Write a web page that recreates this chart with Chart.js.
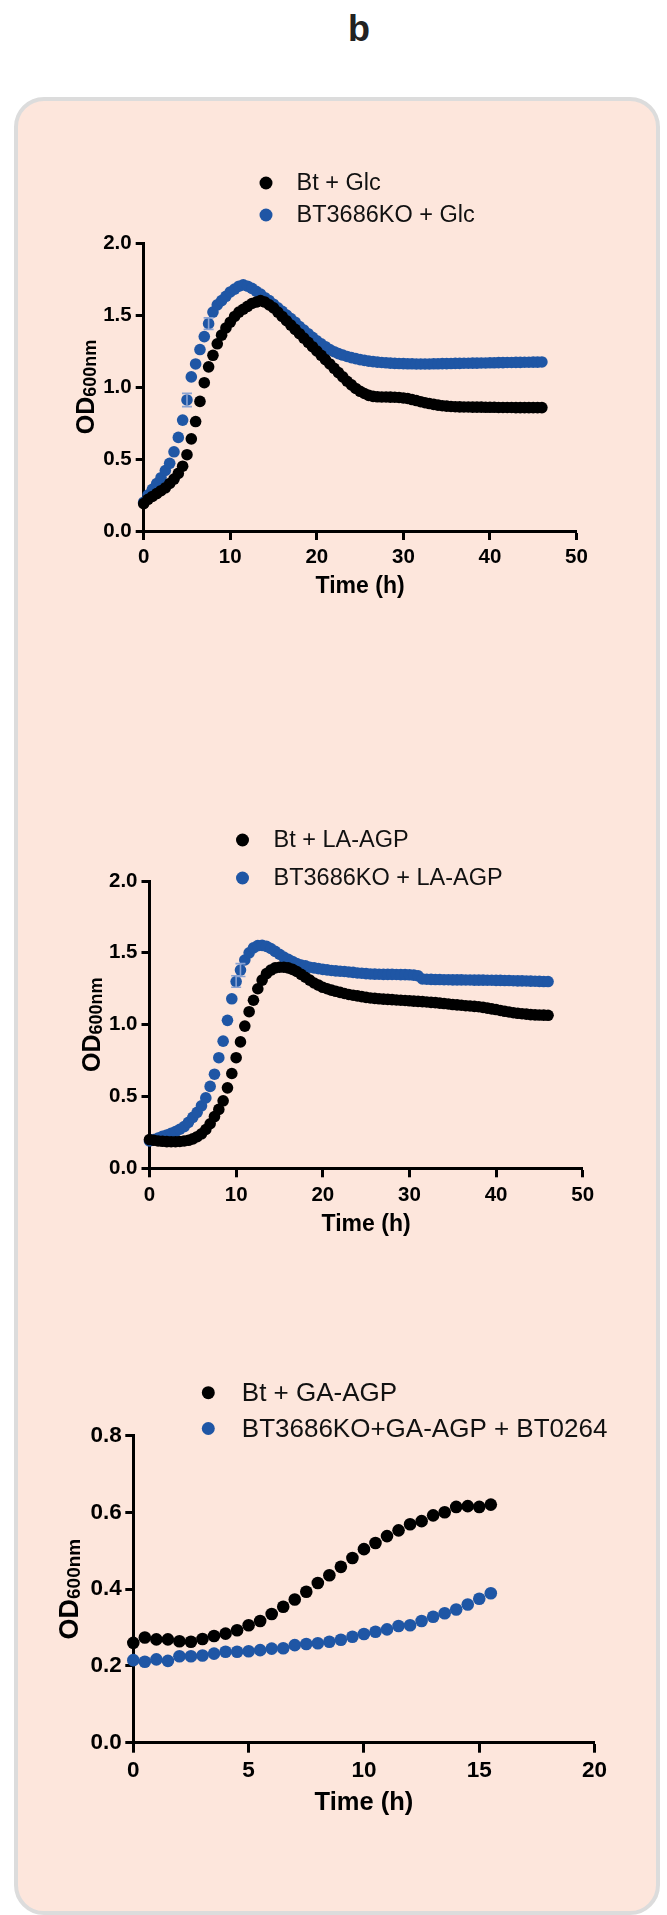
<!DOCTYPE html>
<html>
<head>
<meta charset="utf-8">
<script src="https://cdn.jsdelivr.net/npm/chart.js@4.4.0/dist/chart.umd.min.js"></script>
<style>
html,body{margin:0;padding:0;background:#ffffff;}
body{width:667px;height:1915px;position:relative;overflow:hidden;font-family:"Liberation Sans",Arial,Helvetica,sans-serif;}
#head{position:absolute;left:309px;top:11px;width:100px;text-align:center;font-weight:bold;font-size:36px;line-height:36px;color:#222;}
#panel{position:absolute;left:14px;top:97px;width:646px;height:1818px;box-sizing:border-box;border:4px solid #dcdcdc;border-radius:30px;background:#fde6dc;}
canvas{position:absolute;left:0;}
#c1{top:150px;}
#c2{top:800px;}
#c3{top:1360px;}
</style>
</head>
<body>
<div id="head">b</div>
<div id="panel"></div>
<canvas id="c1" width="667" height="480"></canvas>
<canvas id="c2" width="667" height="460"></canvas>
<canvas id="c3" width="667" height="470"></canvas>
<script>
// ---------- data ----------
const times46 = [
  0,0.5,1,1.5,2,2.5,3,3.5,4,4.5,
  5,5.5,6,6.5,7,7.5,8,8.5,9,9.5,
  10,10.5,11,11.5,12,12.5,13,13.5,14,14.5,
  15,15.5,16,16.5,17,17.5,18,18.5,19,19.5,
  20,20.5,21,21.5,22,22.5,23,23.5,24,24.5,
  25,25.5,26,26.5,27,27.5,28,28.5,29,29.5,
  30,30.5,31,31.5,32,32.5,33,33.5,34,34.5,
  35,35.5,36,36.5,37,37.5,38,38.5,39,39.5,
  40,40.5,41,41.5,42,42.5,43,43.5,44,44.5,
  45,45.5,46];
const times15 = [0,0.5,1,1.5,2,2.5,3,3.5,4,4.5,5,5.5,6,6.5,7,7.5,
  8,8.5,9,9.5,10,10.5,11,11.5,12,12.5,13,13.5,14,14.5,15,15.5];

const labelsGlc = ['Bt + Glc', 'BT3686KO + Glc'];
const btGlc = [
  0.19,0.22,0.24,0.26,0.28,0.30,0.33,0.36,0.40,0.45,
  0.53,0.64,0.76,0.90,1.03,1.14,1.22,1.30,1.36,1.41,
  1.45,1.49,1.52,1.54,1.56,1.58,1.59,1.60,1.59,1.57,
  1.55,1.52,1.49,1.46,1.43,1.40,1.37,1.34,1.31,1.28,
  1.25,1.22,1.19,1.16,1.13,1.10,1.07,1.04,1.015,0.99,
  0.97,0.955,0.942,0.935,0.932,0.931,0.931,0.93,0.929,0.927,
  0.924,0.92,0.913,0.906,0.898,0.891,0.885,0.879,0.874,0.87,
  0.867,0.865,0.863,0.862,0.861,0.861,0.86,0.86,0.86,0.859,
  0.859,0.859,0.858,0.858,0.858,0.858,0.857,0.857,0.857,0.857,
  0.857,0.857,0.857];
const koGlc = [
  0.20,0.25,0.29,0.33,0.37,0.42,0.47,0.55,0.65,0.77,
  0.91,1.07,1.16,1.26,1.35,1.44,1.52,1.57,1.60,1.63,
  1.66,1.68,1.70,1.71,1.70,1.685,1.665,1.645,1.62,1.60,
  1.575,1.55,1.525,1.50,1.475,1.45,1.42,1.395,1.37,1.345,
  1.32,1.30,1.28,1.26,1.245,1.232,1.222,1.212,1.204,1.197,
  1.19,1.185,1.18,1.176,1.173,1.17,1.168,1.166,1.164,1.163,
  1.162,1.161,1.161,1.16,1.16,1.16,1.16,1.161,1.161,1.162,
  1.162,1.163,1.164,1.164,1.165,1.165,1.166,1.166,1.167,1.167,
  1.168,1.168,1.169,1.169,1.17,1.17,1.171,1.171,1.172,1.172,
  1.173,1.173,1.174];
const koGlcErr = [[5, 0.046], [7.5, 0.04]];

const labelsLa = ['Bt + LA-AGP', 'BT3686KO + LA-AGP'];
const btLa = [
  0.20,0.195,0.19,0.188,0.186,0.185,0.185,0.187,0.19,0.195,
  0.205,0.22,0.24,0.27,0.31,0.36,0.41,0.47,0.56,0.66,
  0.77,0.88,0.99,1.09,1.17,1.25,1.31,1.355,1.38,1.395,
  1.40,1.40,1.395,1.385,1.37,1.35,1.33,1.31,1.29,1.275,
  1.26,1.25,1.24,1.232,1.225,1.217,1.21,1.205,1.20,1.195,
  1.19,1.186,1.183,1.18,1.178,1.176,1.174,1.172,1.17,1.168,
  1.166,1.164,1.162,1.16,1.158,1.155,1.153,1.15,1.147,1.144,
  1.14,1.138,1.135,1.132,1.13,1.127,1.125,1.12,1.115,1.11,
  1.105,1.099,1.093,1.088,1.083,1.079,1.076,1.073,1.07,1.068,
  1.067,1.066,1.065];
const koLa = [
  0.19,0.20,0.21,0.222,0.232,0.243,0.255,0.272,0.29,0.32,
  0.355,0.39,0.435,0.49,0.57,0.655,0.77,0.885,1.03,1.18,
  1.30,1.38,1.45,1.50,1.535,1.55,1.552,1.545,1.53,1.51,
  1.49,1.47,1.455,1.44,1.425,1.415,1.41,1.40,1.395,1.39,
  1.385,1.381,1.377,1.374,1.372,1.37,1.367,1.364,1.36,1.358,
  1.355,1.353,1.352,1.351,1.35,1.35,1.35,1.349,1.348,1.348,
  1.347,1.345,1.34,1.318,1.316,1.315,1.314,1.314,1.313,1.313,
  1.312,1.312,1.312,1.311,1.311,1.31,1.31,1.31,1.309,1.309,
  1.308,1.308,1.307,1.307,1.306,1.305,1.305,1.304,1.303,1.302,
  1.301,1.30,1.30];
const koLaErr = [[10, 0.04], [10.5, 0.045]];

const labelsGa = ['Bt + GA-AGP', 'BT3686KO+GA-AGP + BT0264'];
const btGa = [0.26,0.274,0.269,0.269,0.264,0.263,0.27,0.278,0.284,0.293,0.306,0.317,
  0.335,0.354,0.373,0.393,0.416,0.436,0.458,0.481,0.504,0.52,0.538,0.553,
  0.569,0.577,0.592,0.60,0.614,0.616,0.614,0.62];
const koGa = [0.215,0.211,0.217,0.213,0.225,0.225,0.227,0.232,0.237,0.237,0.238,0.241,
  0.245,0.246,0.254,0.257,0.259,0.263,0.268,0.276,0.283,0.289,0.295,0.304,
  0.306,0.317,0.328,0.337,0.347,0.36,0.375,0.389];

const yTicks12 = [0, 0.5, 1.0, 1.5, 2.0];
const yTicks3 = [0, 0.2, 0.4, 0.6, 0.8];
const xTicks12 = [0, 10, 20, 30, 40, 50];
const xTicks3 = [0, 5, 10, 15, 20];

// ---------- styling ----------
const FAM = '"Liberation Sans", Arial, Helvetica, sans-serif';
const BLACK = '#000000';
const BLUE = '#1f56a5';
const ERR = '#8aa2d2';
Chart.defaults.font.family = FAM;
Chart.defaults.color = '#000';

const sideLegend = {
  id: 'sideLegend',
  afterDraw(chart, args, o) {
    const ctx = chart.ctx;
    ctx.save();
    ctx.font = o.size + 'px ' + FAM;
    ctx.textBaseline = 'middle';
    ctx.textAlign = 'left';
    chart.data.datasets.forEach((ds, i) => {
      const y = o.y0 + i * o.dy;
      ctx.beginPath();
      ctx.arc(o.mx, y, o.r, 0, Math.PI * 2);
      ctx.fillStyle = ds.pointBackgroundColor;
      ctx.fill();
      ctx.fillStyle = '#111';
      ctx.fillText(ds.label, o.tx, y + 1);
    });
    ctx.restore();
  }
};

const yTitle = {
  id: 'yTitle',
  afterDraw(chart, args, o) {
    const ctx = chart.ctx, a = chart.chartArea;
    const cy = (a.top + a.bottom) / 2;
    ctx.save();
    ctx.translate(o.x, cy);
    ctx.rotate(-Math.PI / 2);
    ctx.fillStyle = '#000';
    ctx.textBaseline = 'alphabetic';
    ctx.textAlign = 'left';
    const f1 = 'bold ' + o.s1 + 'px ' + FAM, f2 = 'bold ' + o.s2 + 'px ' + FAM;
    ctx.font = f1; const w1 = ctx.measureText('OD').width;
    ctx.font = f2; const w2 = ctx.measureText('600nm').width;
    const x0 = -(w1 + w2) / 2;
    ctx.font = f1; ctx.fillText('OD', x0, 0);
    ctx.font = f2; ctx.fillText('600nm', x0 + w1, o.shift);
    ctx.restore();
  }
};

const errBars = {
  id: 'errBars',
  afterDatasetsDraw(chart, args, o) {
    if (!o.items) return;
    const ctx = chart.ctx, xs = chart.scales.x, ys = chart.scales.y;
    const ds = chart.data.datasets[o.dataset];
    ctx.save();
    ctx.strokeStyle = ERR;
    ctx.lineWidth = 1.6;
    o.items.forEach(([t, e]) => {
      const pt = ds.data.find(d => d.x === t);
      if (!pt) return;
      const px = xs.getPixelForValue(t);
      const y1 = ys.getPixelForValue(pt.y + e), y2 = ys.getPixelForValue(pt.y - e);
      ctx.beginPath();
      ctx.moveTo(px, y1); ctx.lineTo(px, y2);
      ctx.moveTo(px - 5, y1); ctx.lineTo(px + 5, y1);
      ctx.moveTo(px - 5, y2); ctx.lineTo(px + 5, y2);
      ctx.stroke();
    });
    ctx.restore();
  }
};

function makeChart(id, p) {
  const cv = document.getElementById(id);
  const W = cv.width, H = cv.height;
  const toPts = (arr) => p.times.map((t, i) => ({ x: t, y: arr[i] }));
  const tickFont = { size: p.tickSize, weight: 'bold', family: FAM };
  return new Chart(cv, {
    type: 'scatter',
    data: {
      datasets: [
        { label: p.labels[0], data: toPts(p.s1), pointRadius: p.r, pointHoverRadius: p.r,
          pointBackgroundColor: BLACK, pointBorderColor: BLACK, pointBorderWidth: 0,
          showLine: false, clip: false },
        { label: p.labels[1], data: toPts(p.s2), pointRadius: p.r, pointHoverRadius: p.r,
          pointBackgroundColor: BLUE, pointBorderColor: BLUE, pointBorderWidth: 0,
          showLine: false, clip: false }
      ]
    },
    options: {
      responsive: false, animation: false, events: [],
      layout: { padding: { left: 0, top: p.area.top, right: W - p.area.right, bottom: 0 } },
      plugins: {
        legend: { display: false }, tooltip: { enabled: false },
        sideLegend: p.legend,
        yTitle: p.ytitle,
        errBars: { dataset: 1, items: p.err }
      },
      scales: {
        x: {
          type: 'linear', min: 0, max: p.xTicks[p.xTicks.length - 1],
          afterBuildTicks(s) { s.ticks = p.xTicks.map(v => ({ value: v })); },
          ticks: { font: tickFont, color: '#000', padding: p.xPad, maxRotation: 0,
                   callback: v => String(v) },
          grid: { drawOnChartArea: false, drawTicks: true, tickLength: p.xTickLen, tickWidth: 3, tickColor: '#000' },
          border: { display: true, width: 3, color: '#000' },
          title: { display: true, text: 'Time (h)', color: '#000',
                   font: { size: p.titleSize, weight: 'bold', family: FAM },
                   padding: { top: 0, bottom: p.titlePad } },
          afterFit(s) { s.height = H - p.area.bottom; }
        },
        y: {
          type: 'linear', min: 0, max: p.yTicks[p.yTicks.length - 1],
          afterBuildTicks(s) { s.ticks = p.yTicks.map(v => ({ value: v })); },
          ticks: { font: tickFont, color: '#000', padding: p.yPad,
                   callback: v => Number(v).toFixed(1) },
          grid: { drawOnChartArea: false, drawTicks: true, tickLength: 8, tickWidth: 3, tickColor: '#000' },
          border: { display: true, width: 3, color: '#000' },
          afterFit(s) { s.width = p.area.left; }
        }
      }
    },
    plugins: [sideLegend, yTitle, errBars]
  });
}

makeChart('c1', {
  times: times46, s1: btGlc, s2: koGlc, labels: labelsGlc, err: koGlcErr, r: 5.8,
  xTicks: xTicks12, yTicks: yTicks12,
  area: { left: 143.7, top: 93, right: 576.5, bottom: 381 },
  tickSize: 20.5, xPad: 4.7, yPad: 4, xTickLen: 9, titleSize: 23, titlePad: 29.2,
  legend: { mx: 266, tx: 296.5, y0: 33, dy: 32, r: 6.5, size: 23.5 },
  ytitle: { x: 94.4, s1: 25, s2: 18, shift: 2 }
});
makeChart('c2', {
  times: times46, s1: btLa, s2: koLa, labels: labelsLa, err: koLaErr, r: 5.8,
  xTicks: xTicks12, yTicks: yTicks12,
  area: { left: 149.5, top: 81, right: 582.7, bottom: 368.3 },
  tickSize: 20.5, xPad: 5.4, yPad: 4, xTickLen: 9, titleSize: 23, titlePad: 21.2,
  legend: { mx: 242.5, tx: 273.5, y0: 40, dy: 38, r: 6.5, size: 23.5 },
  ytitle: { x: 99.6, s1: 25, s2: 18, shift: 2 }
});
makeChart('c3', {
  times: times15, s1: btGa, s2: koGa, labels: labelsGa, err: null, r: 6.3,
  xTicks: xTicks3, yTicks: yTicks3,
  area: { left: 133.3, top: 75.5, right: 594.6, bottom: 382.7 },
  tickSize: 22.5, xPad: 4.8, yPad: 3.6, xTickLen: 10, titleSize: 25.5, titlePad: 12.2,
  legend: { mx: 208.3, tx: 241.8, y0: 32.7, dy: 35.8, r: 6.5, size: 26 },
  ytitle: { x: 78, s1: 27, s2: 19, shift: 2 }
});
</script>
</body>
</html>
